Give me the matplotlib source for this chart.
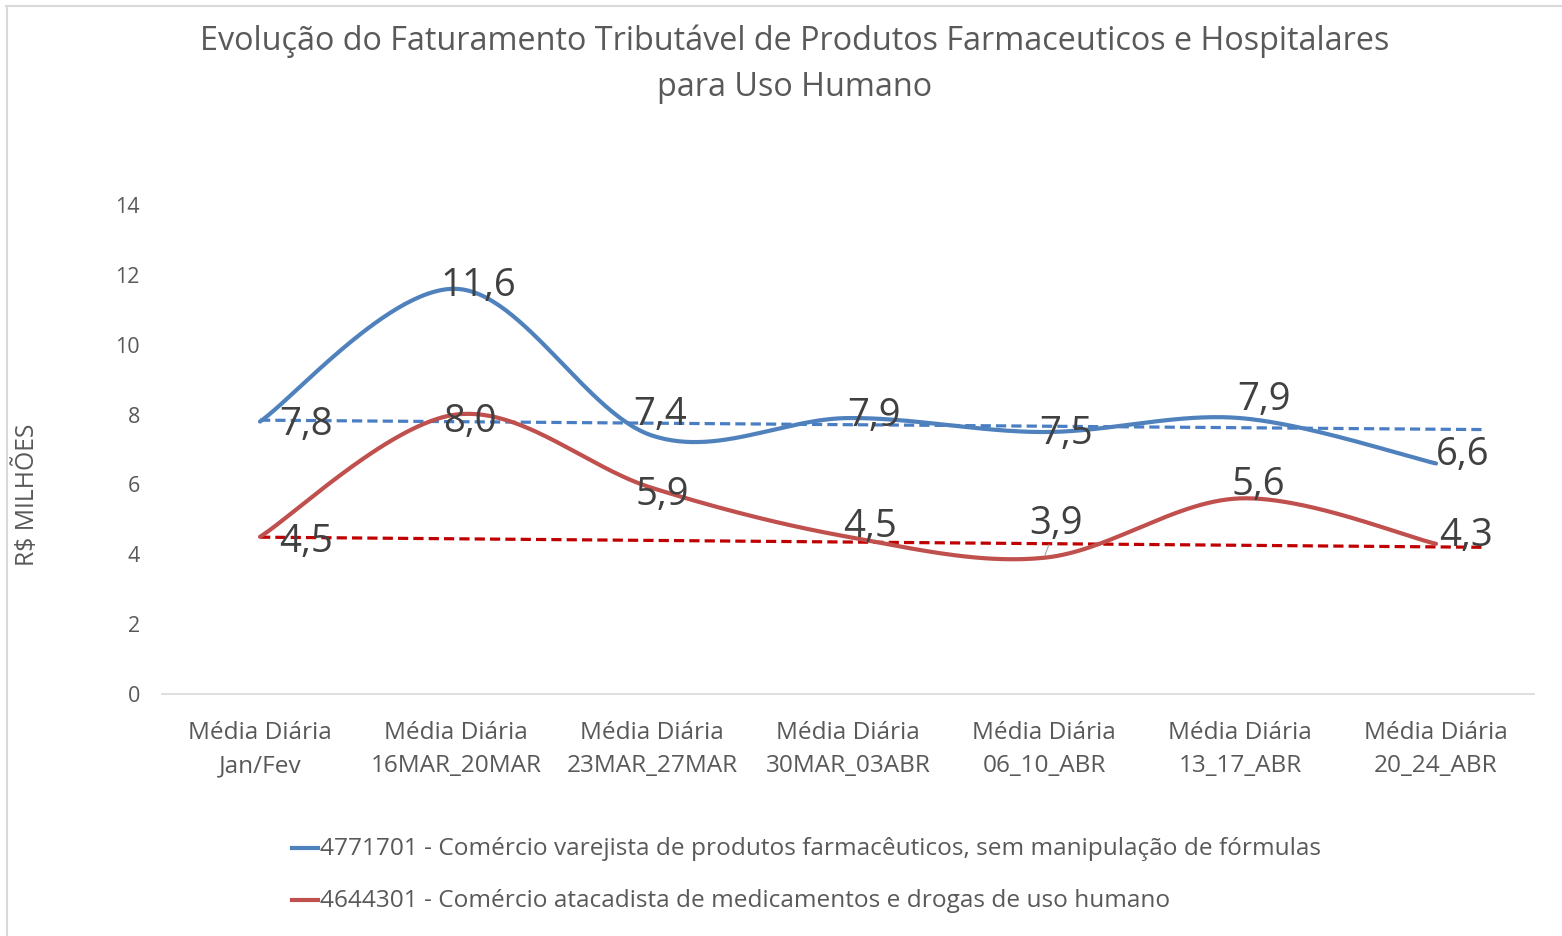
import numpy as np
import matplotlib
matplotlib.use("Agg")
import matplotlib.pyplot as plt
from matplotlib.lines import Line2D

plt.rcParams['font.family'] = ['Open Sans', 'DejaVu Sans']

title = "Evolução do Faturamento Tributável de Produtos Farmaceuticos e Hospitalares\npara Uso Humano"
categories = ["Média Diária\nJan/Fev", "Média Diária\n16MAR_20MAR", "Média Diária\n23MAR_27MAR",
              "Média Diária\n30MAR_03ABR", "Média Diária\n06_10_ABR", "Média Diária\n13_17_ABR",
              "Média Diária\n20_24_ABR"]
serie_varejo = [7.8, 11.6, 7.4, 7.9, 7.5, 7.9, 6.6]
serie_atacado = [4.5, 8.0, 5.9, 4.5, 3.9, 5.6, 4.3]
nome_varejo = "4771701 - Comércio varejista de produtos farmacêuticos, sem manipulação de fórmulas"
nome_atacado = "4644301 - Comércio atacadista de medicamentos e drogas de uso humano"
# trend line values read at first category and at the forecast end
trend_varejo = [7.84, 7.57]
trend_atacado = [4.49, 4.20]
ylabel = "R$ MILHÕES"

BLUE = "#4F81BD"
RED = "#C0504D"
TBLUE = "#4A7EC4"
TRED = "#C00000"
TXT = "#595959"
LBL = "#404040"

W, H = 1562, 936
fig = plt.figure(figsize=(W / 100, H / 100), dpi=100)
ax = fig.add_axes([162 / W, (H - 694) / H, (1534 - 162) / W, (694 - 205) / H])


def smooth(y, n=60):
    y = np.asarray(y, float)
    x = np.arange(len(y), dtype=float)
    P = np.column_stack([x, y])
    Pe = np.vstack([P[0], P, P[-1]])
    out = []
    for i in range(len(y) - 1):
        p0, p1, p2, p3 = Pe[i], Pe[i + 1], Pe[i + 2], Pe[i + 3]
        c1 = p1 + (p2 - p0) / 6
        c2 = p2 - (p3 - p1) / 6
        t = np.linspace(0, 1, n)[:, None]
        seg = ((1 - t) ** 3) * p1 + 3 * ((1 - t) ** 2) * t * c1 + 3 * (1 - t) * t ** 2 * c2 + t ** 3 * p2
        out.append(seg if i == 0 else seg[1:])
    s = np.vstack(out)
    return s[:, 0], s[:, 1]


xs = np.arange(len(categories))
trend_x = [0, len(categories) - 1 + 0.25]

ax.plot(trend_x, trend_varejo, color=TBLUE, lw=2.3, ls=(0, (3.2, 1.6)), zorder=3)
ax.plot(trend_x, trend_atacado, color=TRED, lw=2.3, ls=(0, (3.2, 1.6)), zorder=3)

sx, sy = smooth(serie_varejo)
ax.plot(sx, sy, color=BLUE, lw=3, solid_capstyle='round', zorder=4)
sx, sy = smooth(serie_atacado)
ax.plot(sx, sy, color=RED, lw=3, solid_capstyle='round', zorder=4)

# label offsets in pixels (dx, dy up)
off_varejo = [(46, -3), (22, 3), (8, 21), (26, 2), (22, -2), (24, 18), (27, 8)]
off_atacado = [(46, -5), (14, -7), (10, -7), (22, 10), (12, 34), (18, 13), (30, 8)]
for vals, offs in ((serie_varejo, off_varejo), (serie_atacado, off_atacado)):
    for x, v, (dx, dy) in zip(xs, vals, offs):
        ax.annotate(f"{v:.1f}".replace(".", ","), (x, v), xytext=(dx * 0.72, dy * 0.72),
                    textcoords="offset points", ha="center", va="center",
                    fontsize=27.5, color=LBL, zorder=6)
# leader line for 3,9
ax.annotate("", (4, serie_atacado[4]), xytext=(4.03, serie_atacado[4] + 0.45),
            arrowprops=dict(arrowstyle="-", color="#a6a6a6", lw=0.8))

ax.set_xlim(-0.5, len(categories) - 0.5)
ax.set_ylim(0, 14)
ax.set_yticks(range(0, 15, 2))
ax.set_xticks(xs)
ax.set_xticklabels(categories, fontsize=17.6, color=TXT, linespacing=1.5)
ax.tick_params(axis='y', labelsize=15.5, colors=TXT, length=0, pad=16)
ax.tick_params(axis='x', length=0, pad=19.5)
for s in ("top", "right", "left"):
    ax.spines[s].set_visible(False)
ax.spines["bottom"].set_color("#d9d9d9")
ax.spines["bottom"].set_linewidth(1.2)
ax.set_ylabel(ylabel, fontsize=17.8, color=TXT)
ax.yaxis.set_label_coords(-(162 - 40) / (1534 - 162), (694 - 495) / (694 - 205))

fig.text(795 / W, 1 - 64 / H, title, ha="center", va="center", fontsize=23.3, color=TXT,
         linespacing=1.52)

# legend
for yy, col, name in ((849, BLUE, nome_varejo), (901, RED, nome_atacado)):
    fig.add_artist(Line2D([292 / W, 318 / W], [1 - (yy - 1) / H, 1 - (yy - 1) / H], color=col, lw=3,
                          transform=fig.transFigure))
    fig.text(320 / W, 1 - yy / H, name, ha="left", va="center", fontsize=17.6, color=TXT)

# chart border (top and left)
fig.add_artist(Line2D([6 / W, 1], [1 - 5.5 / H, 1 - 5.5 / H], color="#d9d9d9", lw=1.5,
                      transform=fig.transFigure))
fig.add_artist(Line2D([6.5 / W, 6.5 / W], [0, 1 - 5.5 / H], color="#d9d9d9", lw=1.5,
                      transform=fig.transFigure))

fig.savefig("out.png", dpi=100, facecolor="white")
